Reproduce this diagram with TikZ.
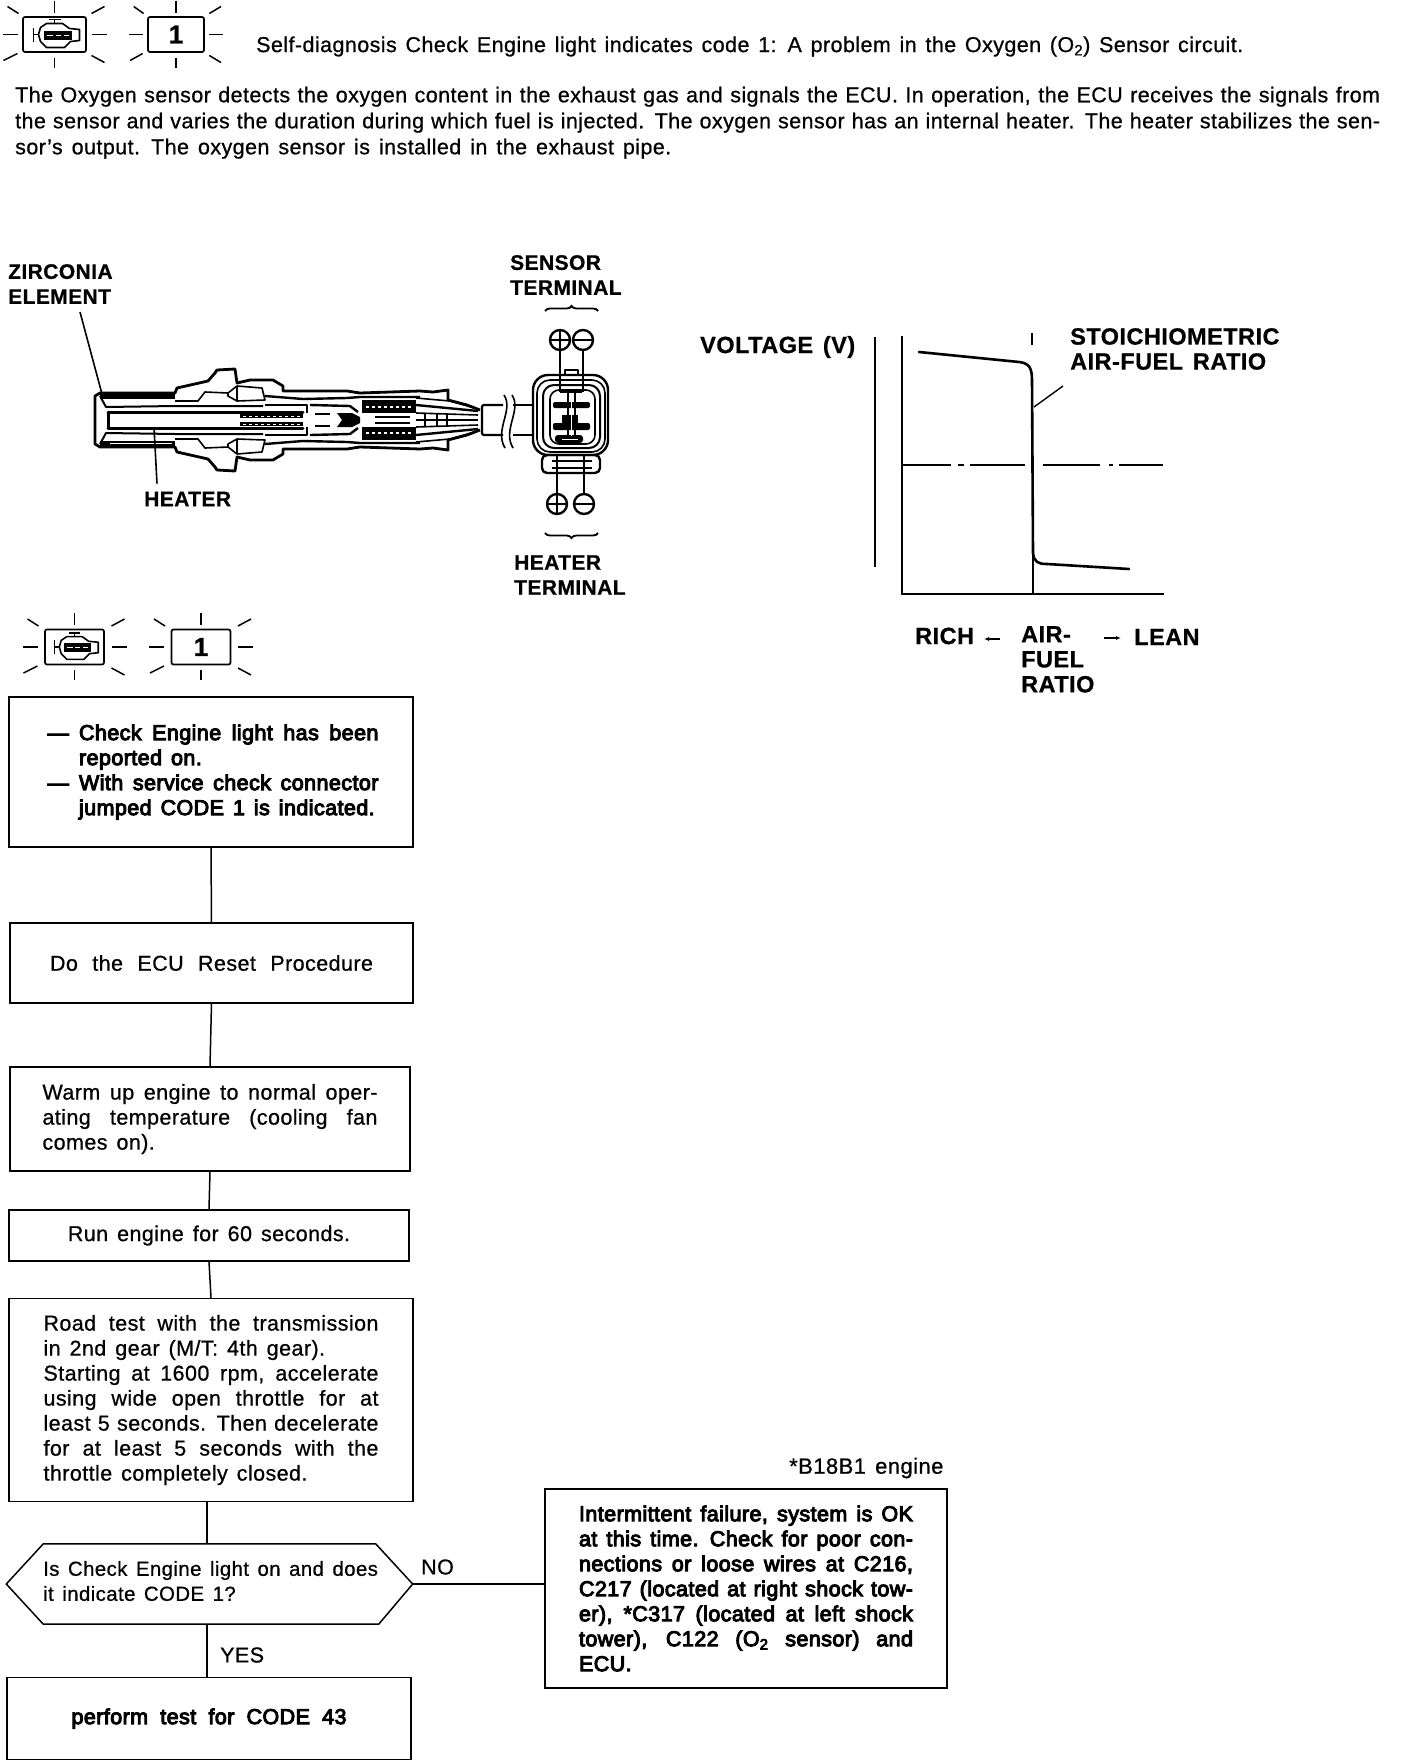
\documentclass[tikz,border=0pt]{standalone}
\usepackage{fontspec}
\usepackage{tikz}
\usetikzlibrary{calc,arrows.meta,decorations.pathreplacing}
\setmainfont[LetterSpace=2,WordSpace=1.4,FakeBold=0.7,BoldFeatures={FakeBold=0.7}]{Liberation Sans}
\newfontfamily\heavyfont[LetterSpace=2,WordSpace=1.4,FakeBold=4.5]{Liberation Sans}
\newcommand{\fitline}[2]{\makebox[#1][s]{#2}}
\tikzset{
  stepbox/.style={draw,line width=1.5pt,inner sep=0pt,font=\fontsize{21.5}{25}\selectfont},
  partlabel/.style={inner sep=0pt,anchor=west,align=left,font=\fontsize{21}{25}\bfseries\selectfont},
  chartlabel/.style={partlabel,font=\fontsize{23.5}{25}\bfseries\selectfont},
  flowlabel/.style={inner sep=0pt,font=\fontsize{21.5}{25}\selectfont},
  leader/.style={line width=1.2pt},
  trace/.style={line width=2.2pt,line cap=round},
  sensorline/.style={line width=1.6pt,line join=round},
  terminallead/.style={line width=2pt},
  terminalplus/.style={draw,circle,line width=2.4pt,inner sep=0pt,minimum size=20pt,
    path picture={\draw[line width=1.8pt] (path picture bounding box.north) -- (path picture bounding box.south)
      (path picture bounding box.west) -- (path picture bounding box.east);}},
  terminalminus/.style={draw,circle,line width=2.4pt,inner sep=0pt,minimum size=20pt,
    path picture={\draw[line width=1.8pt] (path picture bounding box.west) -- (path picture bounding box.east);}},
  lampbox/.style={draw,line width=1.7pt,rounded corners=2pt,inner sep=0pt,minimum height=35pt,
    font=\fontsize{26}{26}\bfseries\selectfont},
  lamprays/.pic={
    \foreach \xa/\ya/\xb/\yb in {0/-34/0/-22, 0/23/0/33, -52/0/-37/0, 37/0/52/0,
      -47/-28/-36/-21, 37/-21/50/-28, -51/26/-37/19, 37/21/50/28}
      \draw[line width=1.5pt] (\xa,\ya) -- (\xb,\yb);
  },
  enginemark/.pic={
    \draw[line width=1.6pt,line join=round] (-16,0) -- (-14,-7) -- (-8,-11) -- (8,-11) -- (15,-6) -- (25,-5)
      -- (25,6) -- (16,7) -- (10,13) -- (-8,13) -- (-14,7) -- cycle;
    \draw[line width=1.6pt] (-21,-7) -- (-21,7) (-21,0) -- (-16,0) (-6,-15) -- (6,-15) (0,-15) -- (0,-11);
    \fill (-11,-4) rectangle (17,5);
    \draw[white,line width=1pt] (-8,0.5) -- (-2,0.5) (1,0.5) -- (6,0.5) (9,0.5) -- (14,0.5);
  }
}

\begin{document}
\begin{tikzpicture}[x=1pt,y=-1pt]
  \useasboundingbox (0,0) rectangle (1408,1764);
  % lamp and code at the top
  \node[lampbox,minimum width=63pt] (topengine) at (54.5,34.5) {};
  \pic at (topengine.center) {lamprays};
  \pic at (topengine.center) {enginemark};
  \node[lampbox,minimum width=56pt] (topcode) at (176,34.5) {1};
  \pic[xscale=0.9] at (topcode.center) {lamprays};
  \node[flowlabel,anchor=west] (headline) at (256,46.5)
    {\fitline{987pt}{Self-diagnosis Check Engine light indicates code 1: A problem in the Oxygen (O\textsubscript{2}) Sensor circuit.}};
  \node[flowlabel,anchor=north west,text width=1365pt,align=justify,font=\fontsize{21.5}{26}\selectfont] (intro) at (15,86.5)
    {The Oxygen sensor detects the oxygen content in the exhaust gas and signals the ECU. In operation, the ECU receives the signals from\linebreak
    the sensor and varies the duration during which fuel is injected. The oxygen sensor has an internal heater. The heater stabilizes the sen-\linebreak
    sor's output. The oxygen sensor is installed in the exhaust pipe.};

  % sensor body, upper and lower half
  \begin{scope}[shift={(0,420)}]
    \foreach \s in {1,-1} {
      \begin{scope}[yscale=\s]
        \draw[sensorline,line width=2.8pt] (95,0) -- (95,-24) -- (100,-27) -- (175,-27) -- (177,-32) -- (208,-39) -- (215,-47)
          -- (217,-50) -- (235,-51) -- (237,-37) -- (250,-40) -- (273,-40) -- (283,-34) -- (283,-29) -- (347,-29)
          -- (360,-27) -- (420,-29) -- (433,-28) -- (448,-30) -- (448,-20) -- (467,-15) -- (480,-10);
        \fill (100,-27) rectangle (175,-21);
        \draw[sensorline,line width=2pt] (100,-24) -- (106,-13) -- (175,-14) -- (263,-14);
        \draw[line width=3pt,line cap=round] (108,-8) -- (303,-8) (108,-8) -- (108,0);
        \draw[sensorline] (175,-19) -- (198,-19) -- (205,-28) -- (228,-27);
        \draw[sensorline] (228,-27) -- (237,-34) -- (262,-32) -- (265,-20) -- (237,-19) -- (228,-24) -- cycle;
        \draw[sensorline] (237,-34) -- (237,-19);
        \draw[sensorline,line width=2.4pt] (265,-24) -- (303,-21) -- (347,-22) -- (360,-23) -- (420,-23);
        \draw[sensorline,line width=2.4pt] (265,-15) -- (307,-15) -- (307,-7);
        \draw[sensorline,line width=2.4pt] (310,-15) -- (350,-14) -- (358,-8);
        \draw[line width=4pt] (240,-4) -- (303,-4);
        \draw[white,line width=1pt,dashed] (243,-4) -- (300,-4);
        \draw[sensorline] (315,-6) -- (330,-6);
        \fill (337,-7) -- (352,-7) -- (360,-3) -- (360,0) -- (342,0) -- cycle;
        \fill (362,-20) rectangle (416,-7);
        \draw[white,line width=1.2pt,dashed] (366,-13) -- (412,-13);
        \draw[line width=1.6pt] (375,-3) -- (410,-3);
        \draw[sensorline] (416,-22) -- (450,-19) -- (475,-12);
        \draw[sensorline,line width=2.4pt] (416,-15) -- (478,-9);
        \draw[sensorline] (416,-7) -- (478,-5);
      \end{scope}
    }
    \draw[white,line width=1pt] (110,23) -- (172,23);
    \draw[line width=1.6pt] (425,-6) -- (425,6) (437,-6) -- (437,6) (447,-6) -- (447,6) (416,0) -- (478,0);
    % cable stub with break
    \draw[sensorline,line width=2.2pt,rounded corners=2pt] (503,-15) -- (482,-15) -- (482,15) -- (503,15);
    \draw[sensorline,line width=2.2pt] (513,-15) -- (533,-15) (513,15) -- (533,15);
    \draw[sensorline] (504,-25) .. controls (514,-10) and (494,10) .. (505,28);
    \draw[sensorline] (512,-25) .. controls (522,-10) and (502,10) .. (513,28);
  \end{scope}

  % connector
  \draw[sensorline,line width=2.4pt,rounded corners=15pt] (533,375) rectangle (608,455);
  \draw[sensorline,rounded corners=13pt] (537,380) rectangle (605,452);
  \draw[sensorline,line width=2pt,rounded corners=11pt] (543,385) rectangle (600,448);
  \draw[sensorline,rounded corners=9pt] (550,390) rectangle (595,444);
  \draw[sensorline,line width=2pt] (565,375) -- (565,370) -- (578,370) -- (578,375);
  \draw[sensorline,line width=2.4pt,rounded corners=5pt] (542,455) rectangle (600,473);
  \fill[rounded corners=2pt] (553,402) rectangle (590,408);
  \fill[rounded corners=2pt] (553,423) rectangle (590,430);
  \fill (562,415) rectangle (578,423);
  \fill[rounded corners=3pt] (555,435) rectangle (583,443);
  \draw[line width=2.4pt] (560,392) -- (582,392);
  \draw[line width=2.4pt] (568,392) -- (568,437) (575,392) -- (575,437);
  \draw[white,line width=1pt] (571.5,394) -- (571.5,436) (562,439) -- (578,439);
  \draw[line width=2.4pt] (552,461) -- (592,461) (552,468) -- (592,468);

  \node[terminalplus] (sensorplus) at (560,340) {};
  \node[terminalminus] (sensorminus) at (583,340) {};
  \node[terminalplus] (heaterplus) at (557,504) {};
  \node[terminalminus] (heaterminus) at (584,504) {};
  \coordinate (pinone) at (560,392);
  \coordinate (pintwo) at (583,392);
  \coordinate (pinthree) at (557,455);
  \coordinate (pinfour) at (584,455);
  \draw[terminallead] (sensorplus) -- (pinone);
  \draw[terminallead] (sensorminus) -- (pintwo);
  \draw[terminallead] (heaterplus) -- (pinthree);
  \draw[terminallead] (heaterminus) -- (pinfour);

  % sensor labels
  \node[partlabel] (zirconia) at (8,284) {ZIRCONIA\\ELEMENT};
  \node[partlabel] (sensorheater) at (144,499) {HEATER};
  \node[partlabel] (sensorterm) at (510,275) {SENSOR\\TERMINAL};
  \node[partlabel] (heaterterm) at (514,575) {HEATER\\TERMINAL};
  \coordinate (zirconiatip) at (102,394);
  \coordinate (heatertip) at (154,427);
  \draw[leader,line width=1.6pt] (80,312) -- (zirconiatip);
  \draw[leader,line width=1.6pt] (sensorheater.north west)+(13,-8) -- (heatertip);
  \draw[line width=1.8pt,decorate,decoration={brace,amplitude=5pt}] (545,311) -- (598,311);
  \draw[line width=1.8pt,decorate,decoration={brace,amplitude=5pt,mirror}] (545,533) -- (598,533);

  % voltage chart
  \coordinate (origin) at (902,594);
  \coordinate (yend) at (902,336);
  \coordinate (xend) at (1164,594);
  \coordinate (ratiofoot) at (1033,594);
  \coordinate (scaletop) at (875,337);
  \coordinate (scalefoot) at (875,567);
  \draw[line width=1.6pt] (scaletop) -- (scalefoot);
  \draw[line width=2pt] (yend) -- (origin) -- (xend);
  \draw[line width=1.6pt] (1032,333) -- (1032,345) (ratiofoot) -- (1033,553);
  \draw[trace,line width=2.6pt] (919,352) -- (1019,362) .. controls (1029,363) and (1032,368) .. (1032,380) -- (1033,553)
    .. controls (1034,562) and (1038,564) .. (1047,564) -- (1129,569);
  \draw[line width=1.4pt] (1063,386) -- (1034,407);
  \draw[line width=1.5pt] (903,465) -- (951,465) (958,465) -- (964,465) (970,465) -- (1025,465)
    (1043,465) -- (1100,465) (1109,465) -- (1113,465) (1119,465) -- (1163,465);
  \node[chartlabel] (voltage) at (700,347) {VOLTAGE (V)};
  \node[chartlabel] (stoich) at (1070,349) {STOICHIOMETRIC\\AIR-FUEL RATIO};
  \node[chartlabel] (rich) at (915,636) {RICH};
  \node[chartlabel,anchor=north west] (afr) at (1021,626) {AIR-\\FUEL\\RATIO};
  \node[chartlabel] (lean) at (1134,637) {LEAN};
  \draw[-{Latex[length=5pt,width=4pt]},line width=1.6pt] (1000,639) -- (984,639);
  \draw[-{Latex[length=5pt,width=4pt]},line width=1.6pt] (1104,638) -- (1121,638);

  % lamp and code above the chart of steps
  \node[lampbox,minimum width=59pt] (flowengine) at (74.5,647) {};
  \pic at (flowengine.center) {lamprays};
  \pic[scale=0.95] at (flowengine.center) {enginemark};
  \node[lampbox,minimum width=59pt] (flowcode) at (201,647) {1};
  \pic at (flowcode.center) {lamprays};

  % steps
  \node[stepbox,minimum width=404pt,minimum height=150pt,text width=335pt,align=justify] (reported) at (211,772)
    {\heavyfont\hangindent=35.5pt\hangafter=1\hspace*{4pt}\makebox[31.5pt][l]{—}Check Engine light has been\linebreak reported on.\par
    \hangindent=35.5pt\hangafter=1\hspace*{4pt}\makebox[31.5pt][l]{—}With service check connector\linebreak jumped CODE 1 is indicated.\par};
  \node[stepbox,minimum width=403pt,minimum height=80pt] (reset) at (211.5,963)
    {\fitline{323pt}{Do the ECU Reset Procedure}};
  \node[stepbox,minimum width=400pt,minimum height=104pt,text width=335pt,align=justify] (warmup) at (210,1119)
    {Warm up engine to normal oper-\linebreak ating temperature (cooling fan\linebreak comes on).};
  \node[stepbox,minimum width=400pt,minimum height=51pt] (run) at (209,1235.5)
    {Run engine for 60 seconds.};
  \node[stepbox,minimum width=404pt,minimum height=203pt,text width=335pt,align=justify] (roadtest) at (211,1400)
    {Road test with the transmission\linebreak in 2nd gear (M/T: 4th gear).\\
    Starting at 1600 rpm, accelerate\linebreak using wide open throttle for at\linebreak
    least 5 seconds. Then decelerate\linebreak for at least 5 seconds with the\linebreak
    throttle completely closed.};
  \node[minimum width=406pt,minimum height=80pt,inner sep=0pt] (question) at (209.5,1584) {};
  \node[flowlabel,anchor=west,align=left,font=\fontsize{20.4}{25}\selectfont] (questiontext) at (43,1581)
    {Is Check Engine light on and does\\it indicate CODE 1?};
  \draw[line width=1.5pt,line join=round] (question.west) -- ($(question.north west)+(37,0)$) -- ($(question.north east)+(-37,0)$)
    -- (question.east) -- ($(question.south east)+(-34,0)$) -- ($(question.south west)+(37,0)$) -- cycle;
  \node[stepbox,minimum width=404pt,minimum height=82pt] (codetest) at (209,1718.5)
    {\heavyfont\fitline{275pt}{perform test for CODE 43}};
  \node[stepbox,minimum width=402pt,minimum height=199pt,text width=334pt,align=justify] (failure) at (746,1588.5)
    {\heavyfont Intermittent failure, system is OK\linebreak at this time. Check for poor con-\linebreak
    nections or loose wires at C216,\linebreak C217 (located at right shock tow-\linebreak
    er), *C317 (located at left shock\linebreak tower), C122 (O\textsubscript{2} sensor) and\linebreak ECU.};
  \node[flowlabel,anchor=west,font=\fontsize{22}{25}\selectfont] (engine) at (789,1468) {*B18B1 engine};
  \node[flowlabel,anchor=west] (nolabel) at (421,1567) {NO};
  \node[flowlabel,anchor=west] (yeslabel) at (220,1655) {YES};

  \draw[line width=1.5pt] (reported.south) -- (reset.north);
  \draw[line width=1.5pt] (reset.south) -- (warmup.north);
  \draw[line width=1.5pt] (warmup.south) -- (run.north);
  \draw[line width=1.5pt] (run.south) -- (roadtest.north);
  \draw[line width=1.5pt] ([xshift=-4pt]roadtest.south) -- ([xshift=-2.5pt]question.north);
  \draw[line width=1.8pt] ([xshift=-2.5pt]question.south) -- ([xshift=-2.5pt]question.south |- codetest.north);
  \draw[line width=1.5pt] (question.east) -- (question.east -| failure.west);
\end{tikzpicture}
\end{document}
